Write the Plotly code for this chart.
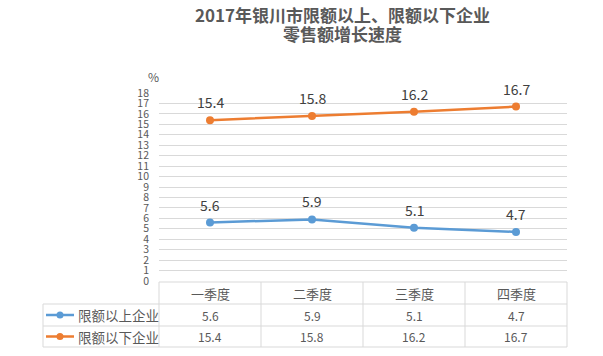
import plotly.graph_objects as go

# ---- data ----
categories = ["一季度", "二季度", "三季度", "四季度"]
series_names = ["限额以上企业", "限额以下企业"]
above_values = [5.6, 5.9, 5.1, 4.7]
below_values = [15.4, 15.8, 16.2, 16.7]
y_ticks = list(range(0, 19))
title_lines = ["2017年银川市限额以上、限额以下企业", "零售额增长速度"]

colors = ["#5B9BD5", "#ED7D31"]
FONT = "Noto Sans CJK SC"
TXT = "#595959"
GRID = "#D9D9D9"

W, H = 603, 356
PLOT_X0, PLOT_X1, PLOT_Y0, PLOT_Y1 = 159, 567, 93, 281  # page pixels
L, T = PLOT_X0, PLOT_Y0
R, B = W - PLOT_X1, H - PLOT_Y1
PW, PH = PLOT_X1 - PLOT_X0, PLOT_Y1 - PLOT_Y0


def xp(px):
    return (px - PLOT_X0) / PW


def yp(py):
    return (PLOT_Y1 - py) / PH


fig = go.Figure()
for name, vals, c in zip(series_names, [above_values, below_values], colors):
    fig.add_trace(go.Scatter(
        x=list(range(len(categories))), y=vals, name=name,
        mode="lines+markers",
        line=dict(color=c, width=2.5),
        marker=dict(color=c, size=8),
        showlegend=False, hoverinfo="skip",
    ))

annotations = []
# data labels
for vals in [above_values, below_values]:
    for i, v in enumerate(vals):
        annotations.append(dict(x=i, y=v, xref="x", yref="y", text=f"{v}",
                                showarrow=False, yshift=18,
                                font=dict(family=FONT, size=14, color="#404040")))

# title
for line, cy in zip(title_lines, [14, 33]):
    annotations.append(dict(x=xp(342), y=yp(cy), xref="paper", yref="paper",
                            text=f"<b>{line}</b>", showarrow=False,
                            xanchor="center", yanchor="middle",
                            font=dict(family=FONT, size=17, color=TXT)))
# % unit
annotations.append(dict(x=xp(153), y=yp(76), xref="paper", yref="paper", text="%",
                        showarrow=False, xanchor="center", yanchor="middle",
                        font=dict(family=FONT, size=12, color=TXT)))

# table
row_lines = [282, 304, 326, 347]
col_edges = [159, 261, 363, 465, 567]
legend_left = 43
row_centers = [(row_lines[k] + row_lines[k + 1]) / 2 for k in range(3)]

for i, cat in enumerate(categories):
    annotations.append(dict(x=i, y=yp(row_centers[0]), xref="x", yref="paper", text=cat,
                            showarrow=False, yanchor="middle",
                            font=dict(family=FONT, size=13, color=TXT)))
for r, vals in enumerate([above_values, below_values]):
    for i, v in enumerate(vals):
        annotations.append(dict(x=i, y=yp(row_centers[r + 1]), xref="x", yref="paper",
                                text=f"{v}", showarrow=False, yanchor="middle",
                                font=dict(family=FONT, size=12, color=TXT)))
    annotations.append(dict(x=xp(76), y=yp(row_centers[r + 1]), xref="paper", yref="paper",
                            text=series_names[r], showarrow=False, xanchor="left",
                            yanchor="middle",
                            font=dict(family=FONT, size=13.5, color=TXT)))

shapes = []
lc = dict(color=GRID, width=1)
shapes.append(dict(type="line", xref="paper", yref="paper", x0=xp(col_edges[0]),
                   x1=xp(col_edges[-1]), y0=yp(row_lines[0]), y1=yp(row_lines[0]), line=lc))
for ry in row_lines[1:]:
    shapes.append(dict(type="line", xref="paper", yref="paper", x0=xp(legend_left),
                       x1=xp(col_edges[-1]), y0=yp(ry), y1=yp(ry), line=lc))
for cx in col_edges:
    shapes.append(dict(type="line", xref="paper", yref="paper", x0=xp(cx), x1=xp(cx),
                       y0=yp(row_lines[0]), y1=yp(row_lines[-1]), line=lc))
shapes.append(dict(type="line", xref="paper", yref="paper", x0=xp(legend_left),
                   x1=xp(legend_left), y0=yp(row_lines[1]), y1=yp(row_lines[-1]), line=lc))
# legend icons
for r, c in enumerate(colors):
    cy = row_centers[r + 1]
    shapes.append(dict(type="line", xref="paper", yref="paper", x0=xp(46), x1=xp(74),
                       y0=yp(cy), y1=yp(cy), line=dict(color=c, width=2.5)))
    shapes.append(dict(type="circle", xref="paper", yref="paper", x0=xp(56.5), x1=xp(63.5),
                       y0=yp(cy + 3.5), y1=yp(cy - 3.5), fillcolor=c, line=dict(width=0)))

fig.update_layout(
    width=W, height=H,
    margin=dict(l=L, r=R, t=T, b=B, pad=0),
    paper_bgcolor="white", plot_bgcolor="white",
    xaxis=dict(range=[-0.5, len(categories) - 0.5], showticklabels=False,
               showgrid=False, zeroline=False, showline=False, fixedrange=True),
    yaxis=dict(range=[0, 18], tickvals=y_ticks, ticktext=[str(t) for t in y_ticks],
               showgrid=True, gridcolor=GRID, gridwidth=1, zeroline=False,
               showline=False, ticklabelstandoff=9,
               tickfont=dict(family=FONT, size=10.5, color=TXT), fixedrange=True),
    annotations=annotations, shapes=shapes,
    font=dict(family=FONT),
    hovermode=False,
)

# remove the default 8px page margin so the figure sits at the window's corner
fig.write_html("out.html",
               config={"displayModeBar": False, "staticPlot": True},
               post_script="document.body.style.margin='0px';"
                           "document.documentElement.style.overflow='hidden';")
